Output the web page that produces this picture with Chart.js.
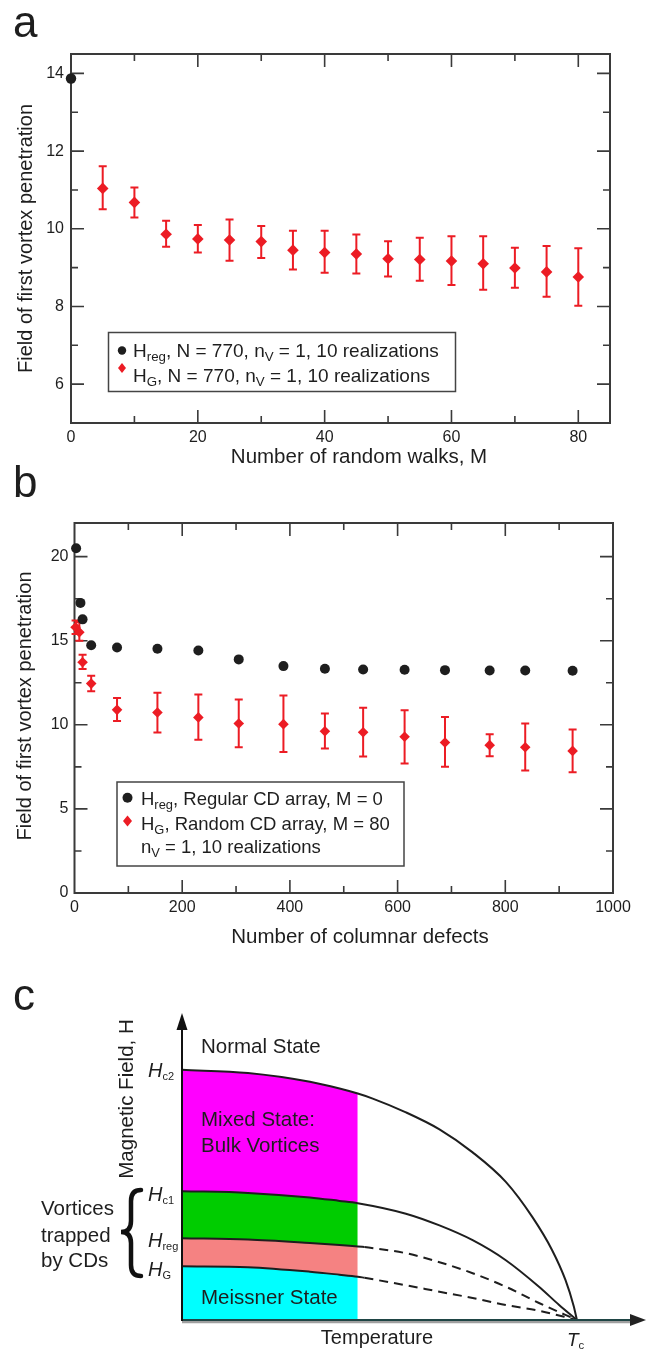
<!DOCTYPE html>
<html>
<head>
<meta charset="utf-8">
<script src="https://cdn.jsdelivr.net/npm/chart.js@4.4.1/dist/chart.umd.min.js"></script>
<style>
  html, body { margin: 0; padding: 0; background: #fff; }
  body { width: 649px; height: 1351px; position: relative; overflow: hidden; }
  canvas { position: absolute; left: 0; }
  #chartA { top: 0; }
  #chartB { top: 455px; }
  #chartC { top: 950px; }
</style>
</head>
<body>
<canvas id="chartA" width="649" height="470"></canvas>
<canvas id="chartB" width="649" height="495"></canvas>
<canvas id="chartC" width="649" height="401"></canvas>
<script>
const FONT = '"Liberation Sans", Arial, Helvetica, sans-serif';
const INK  = "#1e1e1e";
const RED  = "#ec1c24";
const FRAME = "#3a3a3a";

// ---- panel a : field vs number of random walks
const M_REG  = [0];
const HREG_A = [13.87];
const M_G    = [5, 10, 15, 20, 25, 30, 35, 40, 45, 50, 55, 60, 65, 70, 75, 80];
const HG_A   = [11.04, 10.68, 9.86, 9.74, 9.71, 9.67, 9.45, 9.39, 9.35, 9.23, 9.21, 9.17, 9.10, 8.99, 8.89, 8.76];
const HG_A_HI = [11.61, 11.06, 10.21, 10.10, 10.24, 10.07, 9.95, 9.95, 9.85, 9.68, 9.77, 9.81, 9.81, 9.51, 9.56, 9.50];
const HG_A_LO = [10.50, 10.29, 9.54, 9.39, 9.18, 9.25, 8.95, 8.87, 8.85, 8.77, 8.66, 8.55, 8.43, 8.48, 8.25, 8.02];
const A_XTICKS = [0, 20, 40, 60, 80];
const A_XMINOR = [10, 30, 50, 70];
const A_YTICKS = [6, 8, 10, 12, 14];
const A_YMINOR = [7, 9, 11, 13];

// ---- panel b : field vs number of columnar defects
const N_REG  = [3, 11, 15, 31, 79, 154, 230, 305, 388, 465, 536, 613, 688, 771, 837, 925];
const HREG_B = [20.5, 17.25, 16.27, 14.73, 14.6, 14.52, 14.42, 13.89, 13.49, 13.33, 13.29, 13.27, 13.25, 13.23, 13.23, 13.21];
const N_G    = [2, 9, 15, 31, 79, 154, 230, 305, 388, 465, 536, 613, 688, 771, 837, 925];
const HG_B   = [15.8, 15.5, 13.72, 12.45, 10.89, 10.73, 10.44, 10.08, 10.04, 9.62, 9.56, 9.29, 8.95, 8.79, 8.67, 8.45];
const HG_B_HI = [16.2, 16.1, 14.17, 12.92, 11.59, 11.90, 11.81, 11.51, 11.75, 10.67, 11.01, 10.87, 10.46, 9.44, 10.08, 9.72];
const HG_B_LO = [15.4, 15.0, 13.32, 12.0, 10.22, 9.54, 9.11, 8.67, 8.39, 8.59, 8.12, 7.70, 7.50, 8.13, 7.28, 7.18];
const B_XTICKS = [0, 200, 400, 600, 800, 1000];
const B_XMINOR = [100, 300, 500, 700, 900];
const B_YTICKS = [0, 5, 10, 15, 20];
const B_YMINOR = [2.5, 7.5, 12.5, 17.5];

// ---- panel c : schematic phase diagram (T in units of Tc, H in units of Hc2(0))
const T_HC2 = [0, 0.167, 0.324, 0.399, 0.445, 0.483, 0.567, 0.652, 0.736, 0.820, 0.887, 0.937, 0.971, 0.992, 1];
const HC2   = [1.000, 0.987, 0.952, 0.925, 0.905, 0.885, 0.830, 0.762, 0.670, 0.552, 0.412, 0.280, 0.160, 0.055, 0];
const T_HC1 = [0, 0.167, 0.324, 0.399, 0.445, 0.567, 0.652, 0.736, 0.820, 0.904, 0.955, 1];
const HC1   = [0.515, 0.508, 0.490, 0.476, 0.467, 0.425, 0.378, 0.319, 0.239, 0.133, 0.060, 0];
const T_HREG_S = [0, 0.167, 0.324, 0.399, 0.445, 0.462];
const HREG_S   = [0.327, 0.322, 0.308, 0.300, 0.294, 0.292];
const T_HREG_D = [0.462, 0.567, 0.652, 0.736, 0.820, 0.904, 1];
const HREG_D   = [0.292, 0.267, 0.231, 0.187, 0.133, 0.068, 0];
const T_HG_S = [0, 0.167, 0.324, 0.399, 0.445, 0.462];
const HG_S   = [0.215, 0.211, 0.193, 0.181, 0.173, 0.169];
const T_HG_D = [0.462, 0.567, 0.652, 0.736, 0.820, 0.904, 1];
const HG_D   = [0.169, 0.139, 0.113, 0.088, 0.060, 0.037, 0];
const T_FILL_END = 0.445;

Chart.defaults.font.family = FONT;
Chart.defaults.color = INK;

const Y_TITLE = "Field of first vortex penetration";

function pts(xs, ys) { return xs.map((x, i) => ({ x, y: ys[i] })); }

// text with subscripts / italics: parts = [[text, kind]], kind '', 'sub', 'i'
function richText(ctx, x, y, parts, size, align, subRatio = 0.7, subDrop = 0.2) {
  const fontOf = k => k === "sub" ? `${(size * subRatio).toFixed(1)}px ${FONT}`
                                  : `${k === "i" ? "italic " : ""}${size}px ${FONT}`;
  let w = 0;
  parts.forEach(([t, k]) => { ctx.font = fontOf(k); w += ctx.measureText(t).width; });
  let cx = align === "right" ? x - w : align === "center" ? x - w / 2 : x;
  ctx.textAlign = "left";
  ctx.textBaseline = "alphabetic";
  parts.forEach(([t, k]) => {
    ctx.font = fontOf(k);
    ctx.fillText(t, cx, k === "sub" ? y + size * subDrop : y);
    cx += ctx.measureText(t).width;
  });
}

function dot(ctx, x, y, r) {
  ctx.beginPath(); ctx.arc(x, y, r, 0, Math.PI * 2); ctx.fill();
}
function diamond(ctx, x, y, w, h) {
  ctx.beginPath();
  ctx.moveTo(x, y - h); ctx.lineTo(x + w, y); ctx.lineTo(x, y + h); ctx.lineTo(x - w, y);
  ctx.closePath(); ctx.fill();
}

function axisX(min, max, ticks, height, pad) {
  return {
    type: "linear", min, max,
    afterBuildTicks: s => { s.ticks = ticks.map(v => ({ value: v })); },
    afterFit: s => { s.height = height; },
    grid: { display: false, drawTicks: false },
    border: { display: false },
    ticks: { color: INK, font: { size: 16 }, padding: pad, maxRotation: 0, autoSkip: false, callback: v => String(v) },
  };
}
function axisY(min, max, ticks, width, pad) {
  return {
    type: "linear", min, max,
    afterBuildTicks: s => { s.ticks = ticks.map(v => ({ value: v })); },
    afterFit: s => { s.width = width; },
    grid: { display: false, drawTicks: false },
    border: { display: false },
    ticks: { color: INK, font: { size: 16 }, padding: pad, autoSkip: false, callback: v => String(v) },
  };
}

// box + inward ticks on all four sides, and red error bars
function framePlugin(xMajor, xMinor, yMajor, yMinor, xErr, lo, hi) {
  return {
    id: "frame",
    beforeDatasetsDraw(chart) {
      const { ctx, chartArea: a, scales: { x, y } } = chart;
      ctx.save();
      ctx.strokeStyle = FRAME;
      ctx.lineWidth = 2;
      ctx.strokeRect(a.left, a.top, a.right - a.left, a.bottom - a.top);
      ctx.lineWidth = 1.6;
      ctx.beginPath();
      const xt = (vals, len) => vals.forEach(v => {
        const p = x.getPixelForValue(v);
        if (p < a.left + 2 || p > a.right - 2) return;
        ctx.moveTo(p, a.bottom); ctx.lineTo(p, a.bottom - len);
        ctx.moveTo(p, a.top);    ctx.lineTo(p, a.top + len);
      });
      const yt = (vals, len) => vals.forEach(v => {
        const p = y.getPixelForValue(v);
        if (p < a.top + 2 || p > a.bottom - 2) return;
        ctx.moveTo(a.left, p);  ctx.lineTo(a.left + len, p);
        ctx.moveTo(a.right, p); ctx.lineTo(a.right - len, p);
      });
      xt(xMajor, 13); xt(xMinor, 7);
      yt(yMajor, 13); yt(yMinor, 7);
      ctx.stroke();

      ctx.strokeStyle = RED;
      ctx.lineWidth = 2;
      ctx.beginPath();
      xErr.forEach((v, i) => {
        const p = x.getPixelForValue(v);
        const y1 = y.getPixelForValue(lo[i]), y2 = y.getPixelForValue(hi[i]);
        ctx.moveTo(p, y1); ctx.lineTo(p, y2);
        ctx.moveTo(p - 4, y1); ctx.lineTo(p + 4, y1);
        ctx.moveTo(p - 4, y2); ctx.lineTo(p + 4, y2);
      });
      ctx.stroke();
      ctx.restore();
    },
  };
}

const commonOpts = {
  responsive: false,
  animation: false,
  events: [],
  plugins: { legend: { display: false }, tooltip: { enabled: false } },
};

// ================= panel a =================
new Chart(document.getElementById("chartA"), {
  type: "scatter",
  data: {
    datasets: [
      { data: pts(M_REG, HREG_A), pointStyle: "circle", pointRadius: 5.2,
        pointBackgroundColor: INK, pointBorderWidth: 0, clip: false },
      { data: pts(M_G, HG_A), pointStyle: "rectRot", pointRadius: 5.8,
        pointBackgroundColor: RED, pointBorderWidth: 0, clip: false },
    ],
  },
  options: {
    ...commonOpts,
    layout: { padding: { top: 54, right: 39, left: 0, bottom: 0 } },
    scales: {
      x: axisX(0, 85, A_XTICKS, 47, 4.5),
      y: axisY(5, 14.5, A_YTICKS, 71, 7),
    },
  },
  plugins: [
    framePlugin(A_XTICKS, A_XMINOR, A_YTICKS, A_YMINOR, M_G, HG_A_LO, HG_A_HI),
    {
      id: "annotA",
      afterDraw(chart) {
        const { ctx, chartArea: a } = chart;
        ctx.save();
        ctx.fillStyle = INK;
        ctx.font = `44px ${FONT}`;
        ctx.textAlign = "left"; ctx.textBaseline = "alphabetic";
        ctx.fillText("a", 13, 37);

        ctx.save();
        ctx.translate(26, (a.top + a.bottom) / 2);
        ctx.rotate(-Math.PI / 2);
        ctx.font = `20px ${FONT}`;
        ctx.textAlign = "center"; ctx.textBaseline = "middle";
        ctx.fillText(Y_TITLE, 0, 0);
        ctx.restore();

        ctx.font = `20.5px ${FONT}`;
        ctx.textAlign = "center"; ctx.textBaseline = "alphabetic";
        ctx.fillText("Number of random walks, M", 359, 463);

        // legend
        ctx.strokeStyle = "#444"; ctx.lineWidth = 1.5;
        ctx.strokeRect(108.5, 332.5, 347, 59);
        ctx.fillStyle = INK; dot(ctx, 122, 350.5, 4.2);
        ctx.fillStyle = RED; diamond(ctx, 122, 368, 4, 5);
        ctx.fillStyle = INK;
        richText(ctx, 133, 357, [["H", ""], ["reg", "sub"], [", N = 770, n", ""], ["V", "sub"], [" = 1, 10 realizations", ""]], 19);
        richText(ctx, 133, 382, [["H", ""], ["G", "sub"], [", N = 770, n", ""], ["V", "sub"], [" = 1, 10 realizations", ""]], 19);
        ctx.restore();
      },
    },
  ],
});

// ================= panel b =================
new Chart(document.getElementById("chartB"), {
  type: "scatter",
  data: {
    datasets: [
      { data: pts(N_REG, HREG_B), pointStyle: "circle", pointRadius: 5,
        pointBackgroundColor: INK, pointBorderWidth: 0, clip: false },
      { data: pts(N_G, HG_B), pointStyle: "rectRot", pointRadius: 5.3,
        pointBackgroundColor: RED, pointBorderWidth: 0, clip: false },
    ],
  },
  options: {
    ...commonOpts,
    layout: { padding: { top: 68, right: 36, left: 0, bottom: 0 } },
    scales: {
      x: axisX(0, 1000, B_XTICKS, 57, 4.5),
      y: axisY(0, 22, B_YTICKS, 74.5, 6),
    },
  },
  plugins: [
    framePlugin(B_XTICKS, B_XMINOR, B_YTICKS, B_YMINOR, N_G, HG_B_LO, HG_B_HI),
    {
      id: "annotB",
      afterDraw(chart) {
        const { ctx } = chart;
        ctx.save();
        ctx.fillStyle = INK;
        ctx.font = `44px ${FONT}`;
        ctx.textAlign = "left"; ctx.textBaseline = "alphabetic";
        ctx.fillText("b", 13, 42);

        ctx.save();
        ctx.translate(25, 251);
        ctx.rotate(-Math.PI / 2);
        ctx.font = `20px ${FONT}`;
        ctx.textAlign = "center"; ctx.textBaseline = "middle";
        ctx.fillText(Y_TITLE, 0, 0);
        ctx.restore();

        ctx.font = `20.5px ${FONT}`;
        ctx.textAlign = "center"; ctx.textBaseline = "alphabetic";
        ctx.fillText("Number of columnar defects", 360, 488);

        // legend
        ctx.strokeStyle = "#444"; ctx.lineWidth = 1.5;
        ctx.strokeRect(117, 327, 287, 84);
        ctx.fillStyle = INK; dot(ctx, 127.5, 342.7, 5);
        ctx.fillStyle = RED; diamond(ctx, 127.5, 366, 4.5, 5.5);
        ctx.fillStyle = INK;
        richText(ctx, 141, 350, [["H", ""], ["reg", "sub"], [", Regular CD array, M = 0", ""]], 18.5);
        richText(ctx, 141, 375, [["H", ""], ["G", "sub"], [", Random CD array, M = 80", ""]], 18.5);
        richText(ctx, 141, 398, [["n", ""], ["V", "sub"], [" = 1, 10 realizations", ""]], 18.5);
        ctx.restore();
      },
    },
  ],
});

// ================= panel c =================
const fillPts = (ts, hs) => pts(ts, hs).filter(p => p.x <= T_FILL_END + 1e-9);
const band = (data, fill, color) => ({
  data, fill, backgroundColor: color, borderColor: "rgba(0,0,0,0)", borderWidth: 1,
  pointRadius: 0, cubicInterpolationMode: "monotone", order: 2,
});
const curve = (data, dash) => ({
  data, fill: false, borderColor: INK, borderWidth: 2, borderDash: dash || [],
  pointRadius: 0, cubicInterpolationMode: "monotone", order: 1,
});

new Chart(document.getElementById("chartC"), {
  type: "line",
  data: {
    datasets: [
      band(fillPts(T_HG_S, HG_S), "origin", "#00ffff"),
      band(fillPts(T_HREG_S, HREG_S), "-1", "#f58282"),
      band(fillPts(T_HC1, HC1), "-1", "#00cc00"),
      band(fillPts(T_HC2, HC2), "-1", "#ff00ff"),
      curve(pts(T_HC2, HC2)),
      curve(pts(T_HC1, HC1)),
      curve(pts(T_HREG_S, HREG_S)),
      curve(pts(T_HREG_D, HREG_D), [9, 6]),
      curve(pts(T_HG_S, HG_S)),
      curve(pts(T_HG_D, HG_D), [9, 6]),
    ],
  },
  options: {
    ...commonOpts,
    layout: { padding: { top: 63, right: 3, left: 182, bottom: 31 } },
    scales: {
      x: { type: "linear", min: 0, max: 1.175, display: false },
      y: { type: "linear", min: 0, max: 1.227, display: false },
    },
  },
  plugins: [{
    id: "diagram",
    afterDatasetsDraw(chart) {
      const { ctx, chartArea: a, scales: { x, y } } = chart;
      const x0 = x.getPixelForValue(0), y0 = y.getPixelForValue(0);
      ctx.save();
      // x axis (shaded) with arrow
      ctx.strokeStyle = "#a0a0a0"; ctx.lineWidth = 2.5;
      ctx.beginPath(); ctx.moveTo(x0, y0 + 2); ctx.lineTo(a.right - 14, y0 + 2); ctx.stroke();
      ctx.strokeStyle = "#1f4545"; ctx.lineWidth = 2;
      ctx.beginPath(); ctx.moveTo(x0, y0); ctx.lineTo(a.right - 12, y0); ctx.stroke();
      ctx.fillStyle = "#222";
      ctx.beginPath(); ctx.moveTo(a.right, y0); ctx.lineTo(a.right - 16, y0 - 6); ctx.lineTo(a.right - 16, y0 + 6); ctx.closePath(); ctx.fill();
      // y axis with arrow
      ctx.strokeStyle = "#111"; ctx.lineWidth = 2;
      ctx.beginPath(); ctx.moveTo(x0, y0 + 1); ctx.lineTo(x0, a.top + 12); ctx.stroke();
      ctx.fillStyle = "#111";
      ctx.beginPath(); ctx.moveTo(x0, a.top); ctx.lineTo(x0 - 5.5, a.top + 17); ctx.lineTo(x0 + 5.5, a.top + 17); ctx.closePath(); ctx.fill();
      ctx.restore();
    },
    afterDraw(chart) {
      const { ctx, scales: { x, y } } = chart;
      const x0 = x.getPixelForValue(0), y0 = y.getPixelForValue(0);
      ctx.save();
      ctx.fillStyle = INK;
      ctx.textAlign = "left"; ctx.textBaseline = "alphabetic";
      ctx.font = `44px ${FONT}`;
      ctx.fillText("c", 13, 60);

      ctx.font = `20.5px ${FONT}`;
      ctx.fillText("Normal State", x0 + 19, 103);
      ctx.fillText("Mixed State:", x0 + 19, 176);
      ctx.fillText("Bulk Vortices", x0 + 19, 202);
      ctx.fillText("Meissner State", x0 + 19, 354);
      ctx.fillText("Vortices", 41, 265);
      ctx.fillText("trapped", 41, 292);
      ctx.fillText("by CDs", 41, 317);
      ctx.textAlign = "center";
      ctx.font = `20px ${FONT}`;
      ctx.fillText("Temperature", 377, y0 + 24);

      ctx.save();
      ctx.translate(x0 - 49, 149);
      ctx.rotate(-Math.PI / 2);
      ctx.textAlign = "center";
      ctx.font = `20.5px ${FONT}`;
      ctx.fillText("Magnetic Field, H", 0, 0);
      ctx.restore();

      // field labels at T = 0
      const lab = [[HC2[0], "c2", 7.5], [HC1[0], "c1", 9.5], [HREG_S[0], "reg", 8.5], [HG_S[0], "G", 9.5]];
      lab.forEach(([h, s, off]) => {
        richText(ctx, 148, y.getPixelForValue(h) + off, [["H", "i"], [s, "sub"]], 20, "left", 0.55, 0.15);
      });
      richText(ctx, x.getPixelForValue(1) - 10, y0 + 26, [["T", "i"], ["c", "sub"]], 19, "left", 0.6, 0.15);

      // curly brace
      ctx.strokeStyle = "#111"; ctx.lineWidth = 4.5; ctx.lineCap = "round";
      ctx.beginPath();
      ctx.moveTo(141, 240);
      ctx.quadraticCurveTo(131, 240, 131, 251);
      ctx.lineTo(131, 271);
      ctx.quadraticCurveTo(131, 282, 121, 282);
      ctx.quadraticCurveTo(131, 282, 131, 293);
      ctx.lineTo(131, 315);
      ctx.quadraticCurveTo(131, 326, 141, 326);
      ctx.stroke();
      ctx.restore();
    },
  }],
});
</script>
</body>
</html>
